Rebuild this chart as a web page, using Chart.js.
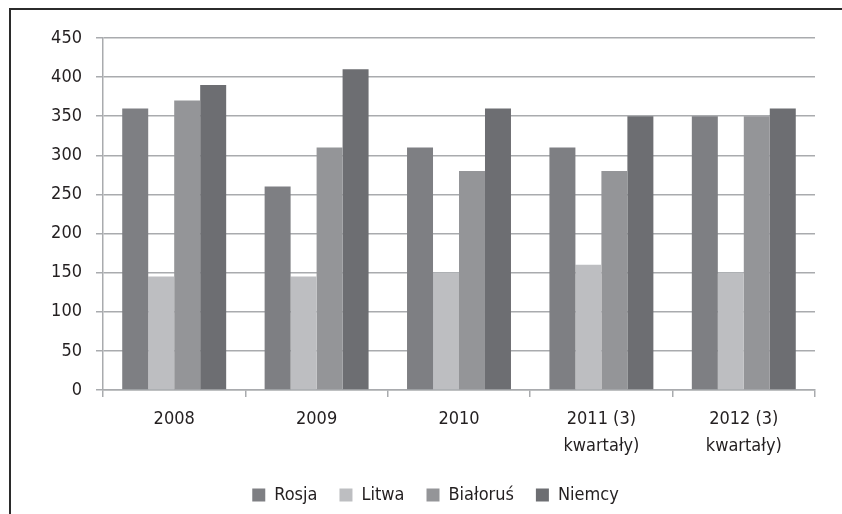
<!DOCTYPE html>
<html>
<head>
<meta charset="utf-8">
<script src="https://cdn.jsdelivr.net/npm/chart.js@4/dist/chart.umd.min.js"></script>
<style>
  body { margin: 0; background: #fff; }
  #wrap { position: relative; width: 842px; height: 514px; overflow: hidden; }
  #frame { position: absolute; left: 9px; top: 8px; width: 900px; height: 600px; border: 2px solid #2b2b2b; box-sizing: border-box; }
  canvas { position: absolute; left: 0; top: 0; }
</style>
</head>
<body>
<div id="wrap">
  <div id="frame"></div>
  <canvas id="chart" width="842" height="514"></canvas>
</div>
<script>
const categories = ["2008", "2009", "2010", ["2011 (3)", "kwartały)"], ["2012 (3)", "kwartały)"]];
const rosja = [360, 260, 310, 310, 350];
const litwa = [145, 145, 150, 160, 150];
const bialorus = [370, 310, 280, 280, 350];
const niemcy = [390, 410, 360, 350, 360];

const font = { family: "'Liberation Sans Narrow', 'DejaVu Sans Condensed', sans-serif", size: 18 };
const gridColor = "#a9abae";

Chart.defaults.font = font;
Chart.defaults.color = "#231f20";

// the legend in the original sits a bit right of the plot centre
const shiftLegend = {
  id: "shiftLegend",
  afterLayout(chart) {
    chart.legend.left += 28;
    chart.legend.right += 28;
  }
};

new Chart(document.getElementById("chart"), {
  type: "bar",
  data: {
    labels: categories,
    datasets: [
      { label: "Rosja", data: rosja, backgroundColor: "#7e7f83" },
      { label: "Litwa", data: litwa, backgroundColor: "#bdbec1" },
      { label: "Białoruś", data: bialorus, backgroundColor: "#949598" },
      { label: "Niemcy", data: niemcy, backgroundColor: "#6d6e72" }
    ]
  },
  options: {
    responsive: false,
    animation: false,
    layout: { padding: { left: 0, right: 27, top: 38, bottom: 0 } },
    datasets: { bar: { categoryPercentage: 0.73, barPercentage: 1.0, borderWidth: 0 } },
    plugins: {
      legend: {
        position: "bottom",
        labels: { boxWidth: 13, boxHeight: 13, padding: 22, font: font, color: "#231f20" }
      },
      tooltip: { enabled: false }
    },
    scales: {
      x: {
        grid: { drawOnChartArea: false, color: gridColor, lineWidth: 1.5, tickLength: 7, offset: true },
        border: { color: gridColor, width: 1.5 },
        ticks: { padding: 9, maxRotation: 0, autoSkip: false, font: { ...font, lineHeight: 1.5 } },
        afterFit: function(scale) { scale.height = 74; }
      },
      y: {
        min: 0,
        max: 450,
        grid: { color: gridColor, lineWidth: 1.5, tickLength: 7 },
        border: { color: gridColor, width: 1.5 },
        ticks: { stepSize: 50, padding: 14 },
        afterFit: function(scale) { scale.width = 103; }
      }
    }
  },
  plugins: [shiftLegend]
});
</script>
</body>
</html>
